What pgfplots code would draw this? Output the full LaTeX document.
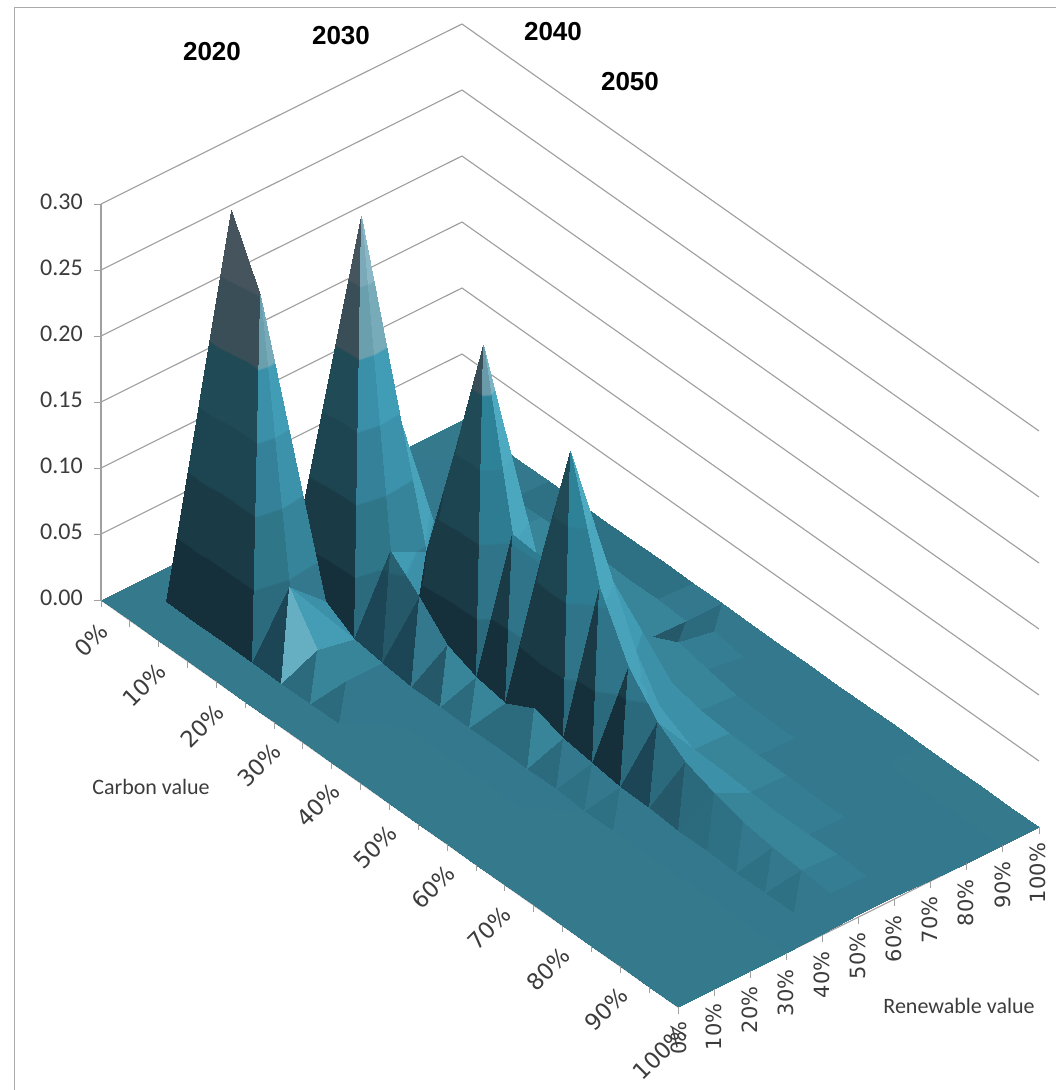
\documentclass[border=0pt]{standalone}
\usepackage{fontspec}
\usepackage{pgfplots}
\pgfplotsset{compat=1.18}
\setmainfont{Carlito}
\newfontfamily\djv{DejaVu Sans}
\newfontfamily\bld{Liberation Sans}
\definecolor{gridgray}{RGB}{160,160,160}
\definecolor{framegray}{RGB}{170,170,170}
\definecolor{labelgray}{RGB}{60,60,60}

% heights of the surface: one line per renewable step, 21 carbon steps each
\newcommand\zrow[2]{\foreach \v [count=\k from 0] in {#2}{\expandafter\xdef\csname z#1-\k\endcsname{\v}}}
\zrow{0}{0,0,0,0,0,0,0,0,0,0,0,0,0,0,0,0,0,0,0,0,0}
\zrow{1}{0,0,0,0,0,0,0,0,0,0,0,0,0,0,0,0,0,0,0,0,0}
\zrow{2}{0,0.14,0.299,0.25,0.044,0.012,0.004,0.001,0,0,0,0,0,0,0,0,0,0,0,0,0}
\zrow{3}{0,0.03,0.06,0.05,0.02,0.007,0.004,0.001,0.001,0.001,0.001,0.001,0.001,0,0,0,0,0,0,0,0}
\zrow{4}{0,0.005,0.025,0.16,0.298,0.06,0.04,0.019,0.0106,0.006,0.018,0.0106,0.007,0.004,0.004,0.002,0.002,0.001,0.001,0.001,0.001}
\zrow{5}{0,0.003,0.02,0.07,0.137,0.045,0.138,0.233,0.105,0.103,0.199,0.111,0.066,0.04,0.025,0.017,0.0105,0.007,0.005,0.003,0.002}
\zrow{6}{0,0.001,0.005,0.02,0.04,0.035,0.03,0.035,0.04,0.06,0.095,0.05,0.014,0.006,0.005,0.004,0.003,0.003,0.003,0.002,0.002}
\zrow{7}{0,0.001,0.003,0.006,0.01,0.012,0.012,0.012,0.015,0.022,0.028,0.012,0.006,0.004,0.003,0.003,0.002,0.002,0.002,0.001,0.001}
\zrow{8}{0,0.001,0.001,0.002,0.003,0.005,0.005,0.004,0.003,0.001,0.013,0.008,0.004,0.003,0.002,0.002,0.001,0.001,0.001,0.001,0}
\zrow{9}{0,0,0.001,0.001,0.002,0.002,0.002,0.001,0.001,0,0.008,0.004,0.002,0.002,0.001,0.001,0,0,0,0,0}
\zrow{10}{0,0,0,0,0,0,0,0,0,0,0,0,0,0,0,0,0,0,0,0,0}

% shade families: twelve base tones, six height bands of 0.05 each
\gdef\cmapstops{}
\foreach \r/\g/\b [count=\n from 0] in {
 21/48/59,26/59/70,29/69/81,31/74/86,58/78/87,70/85/93,
 28/70/85,30/78/92,32/86/100,36/94/106,64/96/106,78/104/114,
 37/89/106,40/98/114,43/106/122,47/112/128,80/120/132,92/128/140,
 44/106/125,47/118/136,53/129/154,58/143/169,106/159/174,123/169/184,
 51/120/140,54/132/154,60/146/170,65/157/181,120/171/186,138/184/198,
 56/132/153,60/144/166,64/154/176,68/163/186,122/174/188,138/186/198,
 60/144/168,65/155/178,70/162/186,72/165/189,124/176/190,140/188/200,
 69/157/181,72/162/186,75/167/190,78/170/193,125/180/195,140/190/200,
 102/175/195,104/177/196,106/179/197,108/181/198,130/186/200,145/192/204,
 47/113/132,50/124/145,55/135/160,60/148/172,112/163/178,128/176/190,
 42/106/124,47/116/136,46/124/146,46/130/152,104/154/170,120/165/180,
 53/125/146,56/134/156,60/146/170,65/157/181,120/171/186,138/184/198}{
 \xdef\cmapstops{\cmapstops rgb255(\the\numexpr10*\n\relax pt)=(\r,\g,\b) rgb255(\the\numexpr10*\n+9\relax.7pt)=(\r,\g,\b) }
}
\edef\tmp{\noexpand\pgfplotsset{colormap={bands}{\cmapstops}}}\tmp

% one facet corner: grid position, height, and a meta value from shade and height
\gdef\allcoords{}
\newcommand\vtx[3]{%
  \edef\zval{\csname z#3-#2\endcsname}%
  \pgfmathsetmacro\mval{60*#1+200*\zval}%
  \xdef\allcoords{\allcoords (#2,#3,\zval) [\mval]}}
\newcommand\tri[7]{\vtx{#1}{#2}{#3}\vtx{#1}{#4}{#5}\vtx{#1}{#6}{#7}}
% one strip of 20 cells: split direction / shade of first facet / shade of second
\newcommand\strip[2]{%
 \foreach \d/\a/\b [count=\i from 0] in {#2}{%
  \edef\I{\i}\edef\II{\the\numexpr\i+1}\edef\J{#1}\edef\JJ{\the\numexpr#1+1}%
  \ifnum\d=0
    \tri{\a}{\I}{\J}{\II}{\JJ}{\I}{\JJ}\tri{\b}{\I}{\J}{\II}{\J}{\II}{\JJ}%
  \else
    \tri{\a}{\I}{\J}{\II}{\J}{\I}{\JJ}\tri{\b}{\II}{\J}{\II}{\JJ}{\I}{\JJ}%
  \fi}}

\strip{9}{0/4/4,0/4/4,0/4/4,0/9/9,0/9/9,0/9/9,0/9/9,0/9/9,0/4/4,1/3/4,0/4/4,0/4/4,0/4/4,0/4/4,0/4/4,0/4/4,0/4/4,0/4/4,0/4/4,0/4/4}
\strip{8}{0/4/4,0/4/4,0/4/4,0/11/11,0/5/5,0/5/5,0/5/5,0/5/5,0/5/5,1/2/3,0/11/11,0/4/4,0/4/4,0/4/4,0/4/4,0/4/4,0/4/4,0/4/4,0/4/4,0/4/4}
\strip{7}{0/4/4,0/4/4,0/4/4,0/4/4,0/4/4,0/4/4,0/11/11,0/5/5,0/5/5,0/5/5,0/5/5,0/5/5,0/11/11,0/11/11,0/4/4,0/4/4,0/4/4,0/4/4,0/4/4,0/4/4}
\strip{6}{0/4/4,0/4/4,0/4/4,0/4/4,0/4/4,0/4/4,0/4/4,0/5/5,0/5/5,0/5/5,0/6/6,0/6/6,0/6/6,0/5/5,0/5/5,0/11/11,0/11/11,0/4/4,0/4/4,0/4/4}
\strip{5}{0/4/4,0/4/4,0/4/4,0/6/6,1/7/6,0/5/5,0/5/5,0/7/7,0/7/7,0/5/5,0/7/7,0/7/7,0/7/7,0/6/6,0/6/6,0/5/5,0/5/5,0/5/5,0/11/11,0/4/4}
\strip{4}{0/4/4,0/0/0,0/0/0,0/3/3,0/5/4,1/6/0,0/0/0,1/0/10,1/0/10,0/0/0,1/0/10,1/0/10,1/0/10,1/1/10,1/2/10,1/3/9,1/9/4,1/9/4,1/9/4,1/4/4}
\strip{3}{0/0/0,0/0/0,1/0/0,0/0/0,1/0/3,1/1/2,1/1/4,1/2/5,1/3/5,0/3/3,1/3/5,1/3/4,1/9/4,1/9/4,1/4/4,0/4/4,0/4/4,0/4/4,0/4/4,0/4/4}
\strip{2}{0/0/0,0/0/0,0/3/3,0/4/4,0/6/7,0/5/5,0/4/4,0/4/4,0/4/4,0/4/4,0/4/4,0/4/4,0/4/4,0/4/4,0/4/4,0/4/4,0/4/4,0/4/4,0/4/4,0/4/4}
\strip{1}{1/4/0,0/0/0,0/0/0,1/0/3,1/1/8,1/3/5,1/3/4,0/4/4,0/4/4,0/4/4,0/4/4,0/4/4,0/4/4,0/4/4,0/4/4,0/4/4,0/4/4,0/4/4,0/4/4,0/4/4}
\strip{0}{0/4/4,0/4/4,0/4/4,0/4/4,0/4/4,0/4/4,0/4/4,0/4/4,0/4/4,0/4/4,0/4/4,0/4/4,0/4/4,0/4/4,0/4/4,0/4/4,0/4/4,0/4/4,0/4/4,0/4/4}

\edef\surfaceplot{\noexpand\addplot3[patch,shader=interp,z buffer=none,point meta=explicit,colormap name=bands] coordinates {\allcoords};}

\begin{document}
\begin{tikzpicture}[x=0.75pt,y=-0.75pt]
\useasboundingbox (0,0) rectangle (1056,1090);
% chart frame
\draw[framegray,line width=1pt] (14.5,1090) -- (14.5,7.5) -- (1056,7.5);
\begin{axis}[
  at={(75.75pt,-450pt)},anchor=origin,hide axis,clip=false,
  x={(21.6375pt,-15.2625pt)},y={(27.075pt,13.5pt)},z={(0pt,990pt)},
  xmin=0,xmax=20,ymin=0,ymax=10,zmin=0,zmax=0.3,
  point meta min=0,point meta max=719.7]
% walls
\addplot3[gridgray,line width=0.85pt] coordinates {(0,0,0.05)(0,10,0.05)(20,10,0.05)};
\addplot3[gridgray,line width=0.85pt] coordinates {(0,0,0.10)(0,10,0.10)(20,10,0.10)};
\addplot3[gridgray,line width=0.85pt] coordinates {(0,0,0.15)(0,10,0.15)(20,10,0.15)};
\addplot3[gridgray,line width=0.85pt] coordinates {(0,0,0.20)(0,10,0.20)(20,10,0.20)};
\addplot3[gridgray,line width=0.85pt] coordinates {(0,0,0.25)(0,10,0.25)(20,10,0.25)};
\addplot3[gridgray,line width=0.85pt] coordinates {(0,0,0.30)(0,10,0.30)(20,10,0.30)};
\addplot3[gridgray,line width=0.85pt] coordinates {(0,0,0)(0,0,0.30)};
\addplot3[gridgray,line width=0.85pt] coordinates {(0,0,0)(20,0,0)(20,10,0)};
\surfaceplot
\end{axis}
% value axis
\foreach \t/\y in {0.00/600,0.05/534,0.10/468,0.15/402,0.20/336,0.25/270,0.30/204}{
  \draw[gridgray,line width=0.75pt] (94,\y) -- (101,\y);
  \node[anchor=east,inner sep=0pt,text=labelgray,font=\fontsize{18}{20}\selectfont] at (83,\y-2) {\t};
}
% ticks along the two floor edges
\foreach \k in {0,...,20}{\draw[gridgray,line width=0.75pt] (101+28.85*\k,600+20.35*\k) -- ++(0,6.5);}
\foreach \k in {0,...,10}{\draw[gridgray,line width=0.75pt] (678+36.1*\k,1007-18*\k) -- ++(0,6.5);}
% carbon labels
\foreach \t/\x/\y in {0/91/640,10/144/685,20/202/726,30/259/765,40/318/805,50/375/847,60/433/887,70/489/928,80/548/969,90/606/1009,100/660/1053}{
  \node[rotate=45,inner sep=0pt,text=labelgray,font=\djv\fontsize{17}{18}\selectfont] at (\x,\y) {\t\%};
}
% renewable labels
\foreach \t/\x/\y in {0/679/1038,10/714/1027,20/750/1010,30/786/993,40/822/975,50/858/956,60/894/939,70/930/920,80/966/903,90/1003/885,100/1038/873}{
  \node[rotate=90,inner sep=0pt,text=labelgray,font=\djv\fontsize{15.75}{18}\selectfont] at (\x,\y) {\t\%};
}
\node[inner sep=0pt,text=labelgray,font=\fontsize{16.5}{18}\selectfont] at (151,787) {Carbon value};
\node[inner sep=0pt,text=labelgray,font=\fontsize{16.5}{18}\selectfont] at (959,1006) {Renewable value};
% year labels
\foreach \t/\x/\y in {2020/212/52,2030/341/36,2040/553/32,2050/630/82}{
  \node[inner sep=0pt,font=\bld\bfseries\fontsize{19.5}{22}\selectfont] at (\x,\y) {\t};
}
\end{tikzpicture}
\end{document}
